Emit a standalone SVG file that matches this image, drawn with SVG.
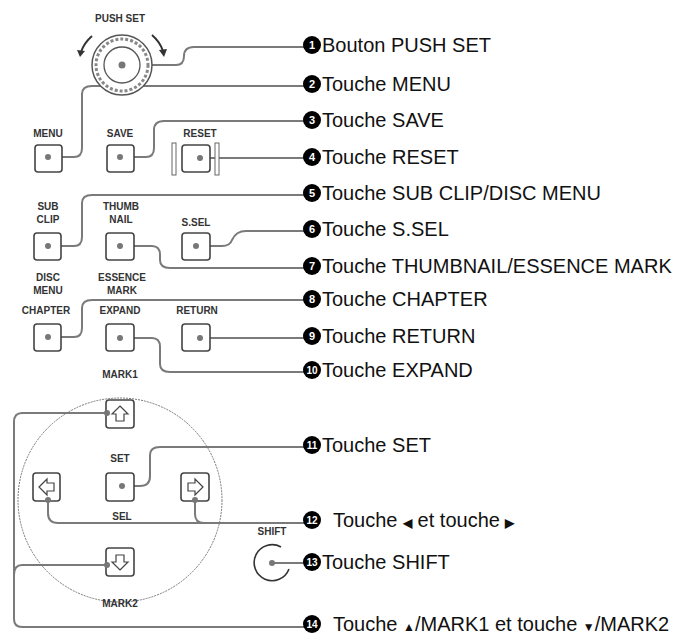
<svg xmlns="http://www.w3.org/2000/svg" width="687" height="635" viewBox="0 0 687 635">
<style>
.btn{fill:#fff;stroke:#444;stroke-width:1.6}
.dot{fill:#777}
.lbl{font-family:"Liberation Sans",Arial,sans-serif;font-size:10px;font-weight:bold;fill:#333;text-anchor:middle}
.t{font-family:"Liberation Sans",Arial,sans-serif;font-size:20px;fill:#111}
.bn{font-family:"Liberation Sans",Arial,sans-serif;font-size:11px;font-weight:bold;fill:#fff;text-anchor:middle}
.ln{fill:none;stroke:#7a7a7a;stroke-width:2}
</style>
<rect width="687" height="635" fill="#fff"/>
<g id="connectors">
<path class="ln" d="M122 65 H176 Q184 65 184 56 Q184 47 194 47 H305"/>
<path class="ln" d="M48 157 H74 Q82 157 82 148 V94 Q82 86 92 86 H305"/>
<path class="ln" d="M120 157 H146 Q154 157 154 148 V130 Q154 121 164 121 H305"/>
<path class="ln" d="M200 158 H305"/>
<path class="ln" d="M48 246 H74 Q82 246 82 237 V203 Q82 195 92 195 H305"/>
<path class="ln" d="M196 246 H222 Q230 246 232 240 Q236 231 246 231 H305"/>
<path class="ln" d="M120 246 H152 Q160 246 160 255 V260 Q160 268 170 268 H305"/>
<path class="ln" d="M48 337 H74 Q82 337 82 328 V308 Q82 300 92 300 H305"/>
<path class="ln" d="M200 338 H305"/>
<path class="ln" d="M120 338 H152 Q160 338 160 347 V364 Q160 372 170 372 H305"/>
<path class="ln" d="M120 486 H140 Q150 486 150 476 V455 Q150 447 160 447 H305"/>
<path class="ln" d="M48 500 V513 Q48 523 58 523 H305 M195 500 V514 Q195 523 204 523"/>
<path class="ln" d="M272 563 H305"/>
<path class="ln" d="M107 413 H22 Q14 413 14 422 V619 Q14 627 22 627 H305 M107 565 H22 Q14 565 14 575"/>
</g>
<g id="knob">
<text class="lbl" x="120" y="22">PUSH SET</text>
<circle cx="122" cy="65" r="30" fill="#fff" stroke="#555" stroke-width="1.5"/>
<circle cx="122" cy="65" r="26" fill="none" stroke="#888" stroke-width="3" stroke-dasharray="3 2"/>
<circle cx="122" cy="65" r="18" fill="#fff" stroke="#555" stroke-width="1.3"/>
<circle class="dot" cx="122" cy="65" r="3.5"/>
<path d="M92 36 Q84 43 81 52" fill="none" stroke="#333" stroke-width="2"/>
<path d="M77 50 L80 57 L85 51 Z" fill="#333"/>
<path d="M152 35 Q160 42 163 51" fill="none" stroke="#333" stroke-width="2"/>
<path d="M159 50 L164 57 L167 49 Z" fill="#333"/>
</g>
<g id="menu"><text class="lbl" x="48" y="137">MENU</text><rect class="btn" x="35" y="145" width="27" height="27" rx="3"/><circle class="dot" cx="48" cy="157" r="3"/></g>
<g id="save"><text class="lbl" x="120" y="137">SAVE</text><rect class="btn" x="107" y="145" width="27" height="27" rx="3"/><circle class="dot" cx="120" cy="157" r="3"/></g>
<g id="reset"><text class="lbl" x="200" y="137">RESET</text>
<rect x="172" y="143" width="4" height="32" fill="#fff" stroke="#666" stroke-width="1"/>
<rect x="215" y="143" width="4" height="32" fill="#fff" stroke="#666" stroke-width="1"/>
<rect class="btn" x="182" y="145" width="28" height="27" rx="3"/><circle class="dot" cx="200" cy="158" r="3"/></g>
<g id="subclip"><text class="lbl" x="48" y="210">SUB</text><text class="lbl" x="48" y="223">CLIP</text><rect class="btn" x="34" y="233" width="27" height="27" rx="3"/><circle class="dot" cx="48" cy="246" r="3"/></g>
<g id="thumb"><text class="lbl" x="121" y="210">THUMB</text><text class="lbl" x="121" y="223">NAIL</text><rect class="btn" x="106" y="233" width="28" height="27" rx="3"/><circle class="dot" cx="120" cy="246" r="3"/></g>
<g id="ssel"><text class="lbl" x="196" y="226">S.SEL</text><rect class="btn" x="182" y="233" width="28" height="27" rx="3"/><circle class="dot" cx="196" cy="246" r="3"/></g>
<g id="chapter"><text class="lbl" x="48" y="281">DISC</text><text class="lbl" x="48" y="294">MENU</text><text class="lbl" x="46" y="314">CHAPTER</text><rect class="btn" x="34" y="324" width="27" height="27" rx="3"/><circle class="dot" cx="48" cy="337" r="3"/></g>
<g id="expand"><text class="lbl" x="122" y="281">ESSENCE</text><text class="lbl" x="122" y="294">MARK</text><text class="lbl" x="120" y="314">EXPAND</text><rect class="btn" x="106" y="324" width="28" height="27" rx="3"/><circle class="dot" cx="120" cy="338" r="3"/></g>
<g id="return"><text class="lbl" x="197" y="314">RETURN</text><rect class="btn" x="182" y="324" width="28" height="27" rx="3"/><circle class="dot" cx="200" cy="338" r="3"/></g>
<g id="pad">
<text class="lbl" x="120" y="378">MARK1</text>
<circle cx="120" cy="500" r="102" fill="none" stroke="#777" stroke-width="1" stroke-dasharray="2 1"/>
<rect class="btn" x="106" y="400" width="28" height="28" rx="3"/><path d="M120 406 L128 414 H124 V421 H116 V414 H112 Z" fill="#fff" stroke="#444" stroke-width="1.2"/><circle class="dot" cx="107" cy="413" r="3"/>
<text class="lbl" x="120" y="462">SET</text>
<rect class="btn" x="106" y="473" width="28" height="28" rx="3"/><circle class="dot" cx="122" cy="486" r="3"/>
<rect class="btn" x="33" y="473" width="27" height="28" rx="3"/><path d="M39 487 L47 479 V483 H54 V491 H47 V495 Z" fill="#fff" stroke="#444" stroke-width="1.2"/><circle class="dot" cx="48" cy="500" r="3"/>
<rect class="btn" x="181" y="473" width="28" height="28" rx="3"/><path d="M203 487 L195 479 V483 H188 V491 H195 V495 Z" fill="#fff" stroke="#444" stroke-width="1.2"/><circle class="dot" cx="195" cy="500" r="3"/>
<text class="lbl" x="122" y="520">SEL</text>
<rect class="btn" x="106" y="548" width="28" height="28" rx="3"/><path d="M120 570 L128 562 H124 V555 H116 V562 H112 Z" fill="#fff" stroke="#444" stroke-width="1.2"/><circle class="dot" cx="107" cy="565" r="3"/>
<text class="lbl" x="120" y="607">MARK2</text>
</g>
<g id="shift"><text class="lbl" x="272" y="535">SHIFT</text><path d="M281 547 A18 18 0 1 0 289 569" fill="none" stroke="#333" stroke-width="1.6"/><circle class="dot" cx="272" cy="563" r="3"/></g>
<g id="legend">
<circle cx="312" cy="45" r="9"/><text class="bn" x="312" y="49">1</text><text class="t" x="322" y="52">Bouton PUSH SET</text>
<circle cx="312" cy="84" r="9"/><text class="bn" x="312" y="88">2</text><text class="t" x="322" y="91">Touche MENU</text>
<circle cx="312" cy="120" r="9"/><text class="bn" x="312" y="124">3</text><text class="t" x="322" y="127">Touche SAVE</text>
<circle cx="312" cy="157" r="9"/><text class="bn" x="312" y="161">4</text><text class="t" x="322" y="164">Touche RESET</text>
<circle cx="312" cy="193" r="9"/><text class="bn" x="312" y="197">5</text><text class="t" x="322" y="200">Touche SUB CLIP/DISC MENU</text>
<circle cx="312" cy="229" r="9"/><text class="bn" x="312" y="233">6</text><text class="t" x="322" y="236">Touche S.SEL</text>
<circle cx="312" cy="266" r="9"/><text class="bn" x="312" y="270">7</text><text class="t" x="322" y="273">Touche THUMBNAIL/ESSENCE MARK</text>
<circle cx="312" cy="299" r="9"/><text class="bn" x="312" y="303">8</text><text class="t" x="322" y="306">Touche CHAPTER</text>
<circle cx="312" cy="336" r="9"/><text class="bn" x="312" y="340">9</text><text class="t" x="322" y="343">Touche RETURN</text>
<circle cx="312" cy="370" r="9"/><text class="bn" x="312" y="374" style="font-size:10px">10</text><text class="t" x="322" y="377">Touche EXPAND</text>
<circle cx="312" cy="445" r="9"/><text class="bn" x="312" y="449" style="font-size:10px">11</text><text class="t" x="322" y="452">Touche SET</text>
<circle cx="312" cy="520" r="9"/><text class="bn" x="312" y="524" style="font-size:10px">12</text><text class="t" x="333" y="527">Touche <tspan font-size="12" font-weight="bold">◀</tspan> et touche <tspan font-size="12" font-weight="bold">▶</tspan></text>
<circle cx="312" cy="562" r="9"/><text class="bn" x="312" y="566" style="font-size:10px">13</text><text class="t" x="322" y="569">Touche SHIFT</text>
<circle cx="312" cy="624" r="9"/><text class="bn" x="312" y="628" style="font-size:10px">14</text><text class="t" x="333" y="631">Touche <tspan font-size="12">▲</tspan>/MARK1 et touche <tspan font-size="12">▼</tspan>/MARK2</text>
</g>
</svg>
